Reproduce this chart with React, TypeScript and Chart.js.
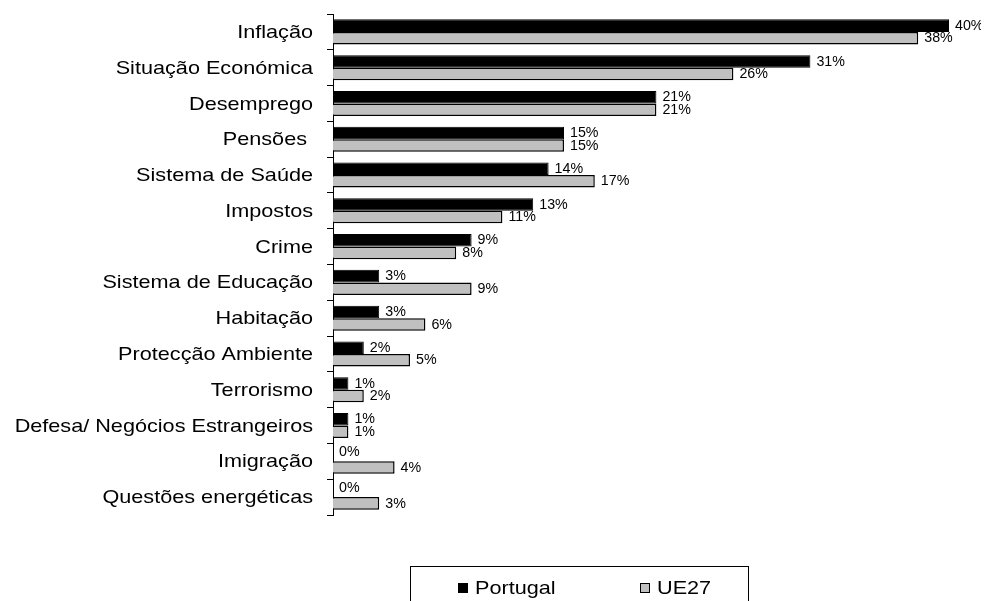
import React, { useEffect, useRef } from "react";
import { Chart, registerables } from "chart.js";

Chart.register(...registerables);

const categories = [
  "Inflação",
  "Situação Económica",
  "Desemprego",
  "Pensões ",
  "Sistema de Saúde",
  "Impostos",
  "Crime",
  "Sistema de Educação",
  "Habitação",
  "Protecção Ambiente",
  "Terrorismo",
  "Defesa/ Negócios Estrangeiros",
  "Imigração",
  "Questões energéticas",
];
const portugal = [40, 31, 21, 15, 14, 13, 9, 3, 3, 2, 1, 1, 0, 0];
const ue27 = [38, 26, 21, 15, 17, 11, 8, 9, 6, 5, 2, 1, 4, 3];
const seriesNames = ["Portugal", "UE27"];
const seriesColors = ["#000000", "#C0C0C0"];

const FONT = "'Liberation Sans', Arial, sans-serif";
const STRETCH = 1.17;

const drawPlugin = {
  id: "customDraw",
  afterDatasetsDraw(chart: any) {
    const { ctx, chartArea } = chart;
    const yScale = chart.scales.y;
    ctx.save();
    ctx.fillStyle = "#000";
    ctx.font = `18.5px ${FONT}`;
    ctx.textAlign = "right";
    ctx.textBaseline = "middle";
    categories.forEach((c, i) => {
      const y = yScale.getPixelForValue(i);
      ctx.save();
      ctx.translate(chartArea.left - 20, y + 1);
      ctx.scale(STRETCH, 1);
      ctx.fillText(c, 0, 0);
      ctx.restore();
    });
    ctx.font = `15px ${FONT}`;
    ctx.textAlign = "left";
    ctx.textBaseline = "middle";
    chart.data.datasets.forEach((ds: any, di: number) => {
      const meta = chart.getDatasetMeta(di);
      meta.data.forEach((bar: any, i: number) => {
        const v = ds.data[i];
        ctx.save();
        ctx.translate(bar.x + 6, bar.y + (v === 0 ? -3 : 0));
        ctx.scale(0.95, 1);
        ctx.fillText(`${v}%`, 0, 0);
        ctx.restore();
      });
    });
    const bx = 402;
    const by = 558;
    const bw = 338;
    const bh = 45;
    ctx.strokeStyle = "#000";
    ctx.lineWidth = 1;
    ctx.strokeRect(bx + 0.5, by + 0.5, bw, bh);
    const items = [
      { x: bx + 48, name: seriesNames[0], color: seriesColors[0] },
      { x: bx + 230, name: seriesNames[1], color: seriesColors[1] },
    ];
    ctx.font = `18.5px ${FONT}`;
    ctx.textBaseline = "middle";
    items.forEach((it) => {
      ctx.fillStyle = it.color;
      ctx.fillRect(it.x, by + 17, 10, 10);
      ctx.strokeStyle = "#000";
      ctx.strokeRect(it.x + 0.5, by + 17.5, 9, 9);
      ctx.fillStyle = "#000";
      ctx.save();
      ctx.translate(it.x + 17, by + 23);
      ctx.scale(STRETCH, 1);
      ctx.textAlign = "left";
      ctx.fillText(it.name, 0, 0);
      ctx.restore();
    });
    ctx.restore();
  },
};

export default function App() {
  const ref = useRef<HTMLCanvasElement>(null);
  useEffect(() => {
    document.documentElement.style.overflow = "hidden";
    if (!ref.current) return;
    const chart = new Chart(ref.current, {
      type: "bar",
      data: {
        labels: categories,
        datasets: [
          {
            label: seriesNames[0],
            data: portugal,
            backgroundColor: seriesColors[0],
            borderColor: "#000",
            borderWidth: 1,
            categoryPercentage: 0.7,
            barPercentage: 1.0,
          },
          {
            label: seriesNames[1],
            data: ue27,
            backgroundColor: seriesColors[1],
            borderColor: "#000",
            borderWidth: 1.5,
            categoryPercentage: 0.7,
            barPercentage: 1.0,
          },
        ],
      },
      options: {
        indexAxis: "y",
        animation: false,
        responsive: true,
        maintainAspectRatio: false,
        layout: { padding: { top: 6, right: 40, bottom: 86, left: 0 } },
        plugins: {
          legend: { display: false },
          tooltip: { enabled: false },
        },
        scales: {
          x: {
            display: false,
            min: 0,
            max: 40,
          },
          y: {
            type: "category",
            ticks: { display: false },
            grid: {
              offset: true,
              drawOnChartArea: false,
              drawTicks: true,
              tickLength: 6,
              color: "#000",
            },
            border: { display: true, color: "#000", width: 1 },
            afterFit: (s: any) => {
              s.width = 325;
            },
          },
        },
      },
      plugins: [drawPlugin],
    });
    return () => chart.destroy();
  }, []);
  return (
    <div style={{ width: 981, height: 593, position: "relative" }}>
      <canvas ref={ref} />
    </div>
  );
}
